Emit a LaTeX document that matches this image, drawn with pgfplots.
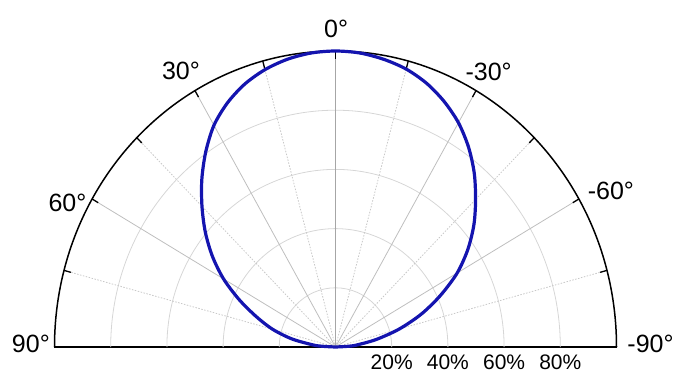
\documentclass[border=0pt]{standalone}
\usepackage{fontspec}
\setmainfont{Liberation Sans}
\usepackage{pgfplots}
\usepackage{pgfplotstable}
\pgfplotsset{compat=1.18}
\usepgfplotslibrary{polar}
\definecolor{curveblue}{RGB}{20,20,175}
\definecolor{ringgray}{RGB}{214,214,214}
\definecolor{spokegray}{RGB}{190,190,190}
\definecolor{dotgray}{RGB}{200,200,200}

% angle from the 0 deg direction (positive = left), relative intensity
\pgfplotstableread{
theta r
90  0.000
87  0.045
85  0.080
80  0.158
75  0.232
70  0.300
65  0.378
60  0.460
55  0.535
50  0.605
45  0.672
40  0.740
35  0.805
30  0.865
25  0.910
20  0.945
15  0.970
10  0.987
5   0.997
0   1.000
-5  0.997
-10 0.987
-15 0.972
-20 0.948
-25 0.915
-30 0.875
-35 0.825
-40 0.768
-45 0.705
-50 0.643
-55 0.575
-60 0.500
-65 0.412
-70 0.325
-75 0.235
-80 0.148
-85 0.075
-87 0.042
-90 0.000
}\lampattern

\tikzset{
    ring/.style={ringgray, line width=0.8pt},
    spoke/.style={spokegray, line width=0.8pt},
    dspoke/.style={dotgray, line width=0.8pt, dash pattern=on 1.5pt off 1.5pt},
    rimtick/.style={black, line width=1.3pt},
    anglab/.style={anchor=base, inner sep=1pt, font=\fontsize{25}{25}\selectfont},
}

\begin{document}
\begin{tikzpicture}
\begin{axis}[
    at={(0,0)}, anchor=south west,
    scale only axis,
    width=562pt, height=296pt,
    xmin=-1, xmax=1, ymin=0, ymax=1,
    axis x line=bottom, axis y line=none,
    x axis line style={-, line width=2.6pt, black},
    xtick={0.2,0.4,0.6,0.8},
    xticklabels={20\%,40\%,60\%,80\%},
    ytick=\empty,
    major tick length=0pt,
    xticklabel style={font=\fontsize{21}{21}\selectfont, inner sep=1pt, yshift=-7pt},
    clip=false,
]
    \coordinate (O) at (axis cs:0,0);
    % rings
    \draw[ring] (axis cs:0.2,0) arc[start angle=0, end angle=180, x radius=56.2pt, y radius=59.2pt];
    \draw[ring] (axis cs:0.4,0) arc[start angle=0, end angle=180, x radius=112.4pt, y radius=118.4pt];
    \draw[ring] (axis cs:0.6,0) arc[start angle=0, end angle=180, x radius=168.6pt, y radius=177.6pt];
    \draw[ring] (axis cs:0.8,0) arc[start angle=0, end angle=180, x radius=224.8pt, y radius=236.8pt];
    % spokes
    \draw[spoke] (axis cs:0,0) -- (axis cs:-0.8660,0.5);
    \draw[spoke] (axis cs:0,0) -- (axis cs:-0.5,0.8660);
    \draw[spoke] (axis cs:0,0) -- (axis cs:0.5,0.8660);
    \draw[spoke] (axis cs:0,0) -- (axis cs:0.8660,0.5);
    \draw[gray!70, line width=0.9pt] (axis cs:0,0) -- (axis cs:0,1);
    \draw[dspoke] (axis cs:0,0) -- (axis cs:-0.9659,0.2588);
    \draw[dspoke] (axis cs:0,0) -- (axis cs:-0.7071,0.7071);
    \draw[dspoke] (axis cs:0,0) -- (axis cs:-0.2588,0.9659);
    \draw[dspoke] (axis cs:0,0) -- (axis cs:0.2588,0.9659);
    \draw[dspoke] (axis cs:0,0) -- (axis cs:0.7071,0.7071);
    \draw[dspoke] (axis cs:0,0) -- (axis cs:0.9659,0.2588);
    % outer arc and ticks
    \draw[black, line width=1.5pt] (axis cs:1,0) arc[start angle=0, end angle=180, x radius=281pt, y radius=296pt];
    \draw[rimtick] (axis cs:-0.9659,0.2588) -- (axis cs:-0.9418,0.2523);
    \draw[rimtick] (axis cs:-0.8660,0.5) -- (axis cs:-0.8444,0.4875);
    \draw[rimtick] (axis cs:-0.7071,0.7071) -- (axis cs:-0.6894,0.6894);
    \draw[rimtick] (axis cs:-0.5,0.8660) -- (axis cs:-0.4875,0.8444);
    \draw[rimtick] (axis cs:-0.2588,0.9659) -- (axis cs:-0.2523,0.9418);
    \draw[rimtick] (axis cs:0,1) -- (axis cs:0,0.972);
    \draw[rimtick] (axis cs:0.2588,0.9659) -- (axis cs:0.2523,0.9418);
    \draw[rimtick] (axis cs:0.5,0.8660) -- (axis cs:0.4875,0.8444);
    \draw[rimtick] (axis cs:0.7071,0.7071) -- (axis cs:0.6894,0.6894);
    \draw[rimtick] (axis cs:0.8660,0.5) -- (axis cs:0.8444,0.4875);
    \draw[rimtick] (axis cs:0.9659,0.2588) -- (axis cs:0.9418,0.2523);
    % measured pattern
    \addplot[curveblue, line width=3.2pt, smooth, data cs=polar]
        table[x expr=\thisrow{theta}+90, y=r] {\lampattern};
    % angle labels
    \node[anglab] at (axis cs:0.002,1.047) {0°};
    \node[anglab] at (axis cs:-0.55,0.905) {30°};
    \node[anglab] at (axis cs:0.545,0.902) {-30°};
    \node[anglab] at (axis cs:-0.954,0.459) {60°};
    \node[anglab] at (axis cs:0.980,0.497) {-60°};
    \node[anglab] at (axis cs:-1.084,-0.02) {90°};
    \node[anglab] at (axis cs:1.121,-0.02) {-90°};
\end{axis}
\pgfresetboundingbox
\path[use as bounding box] (O) ++(-335.5pt,-29pt) rectangle ++(675pt,376pt);
\end{tikzpicture}
\end{document}
